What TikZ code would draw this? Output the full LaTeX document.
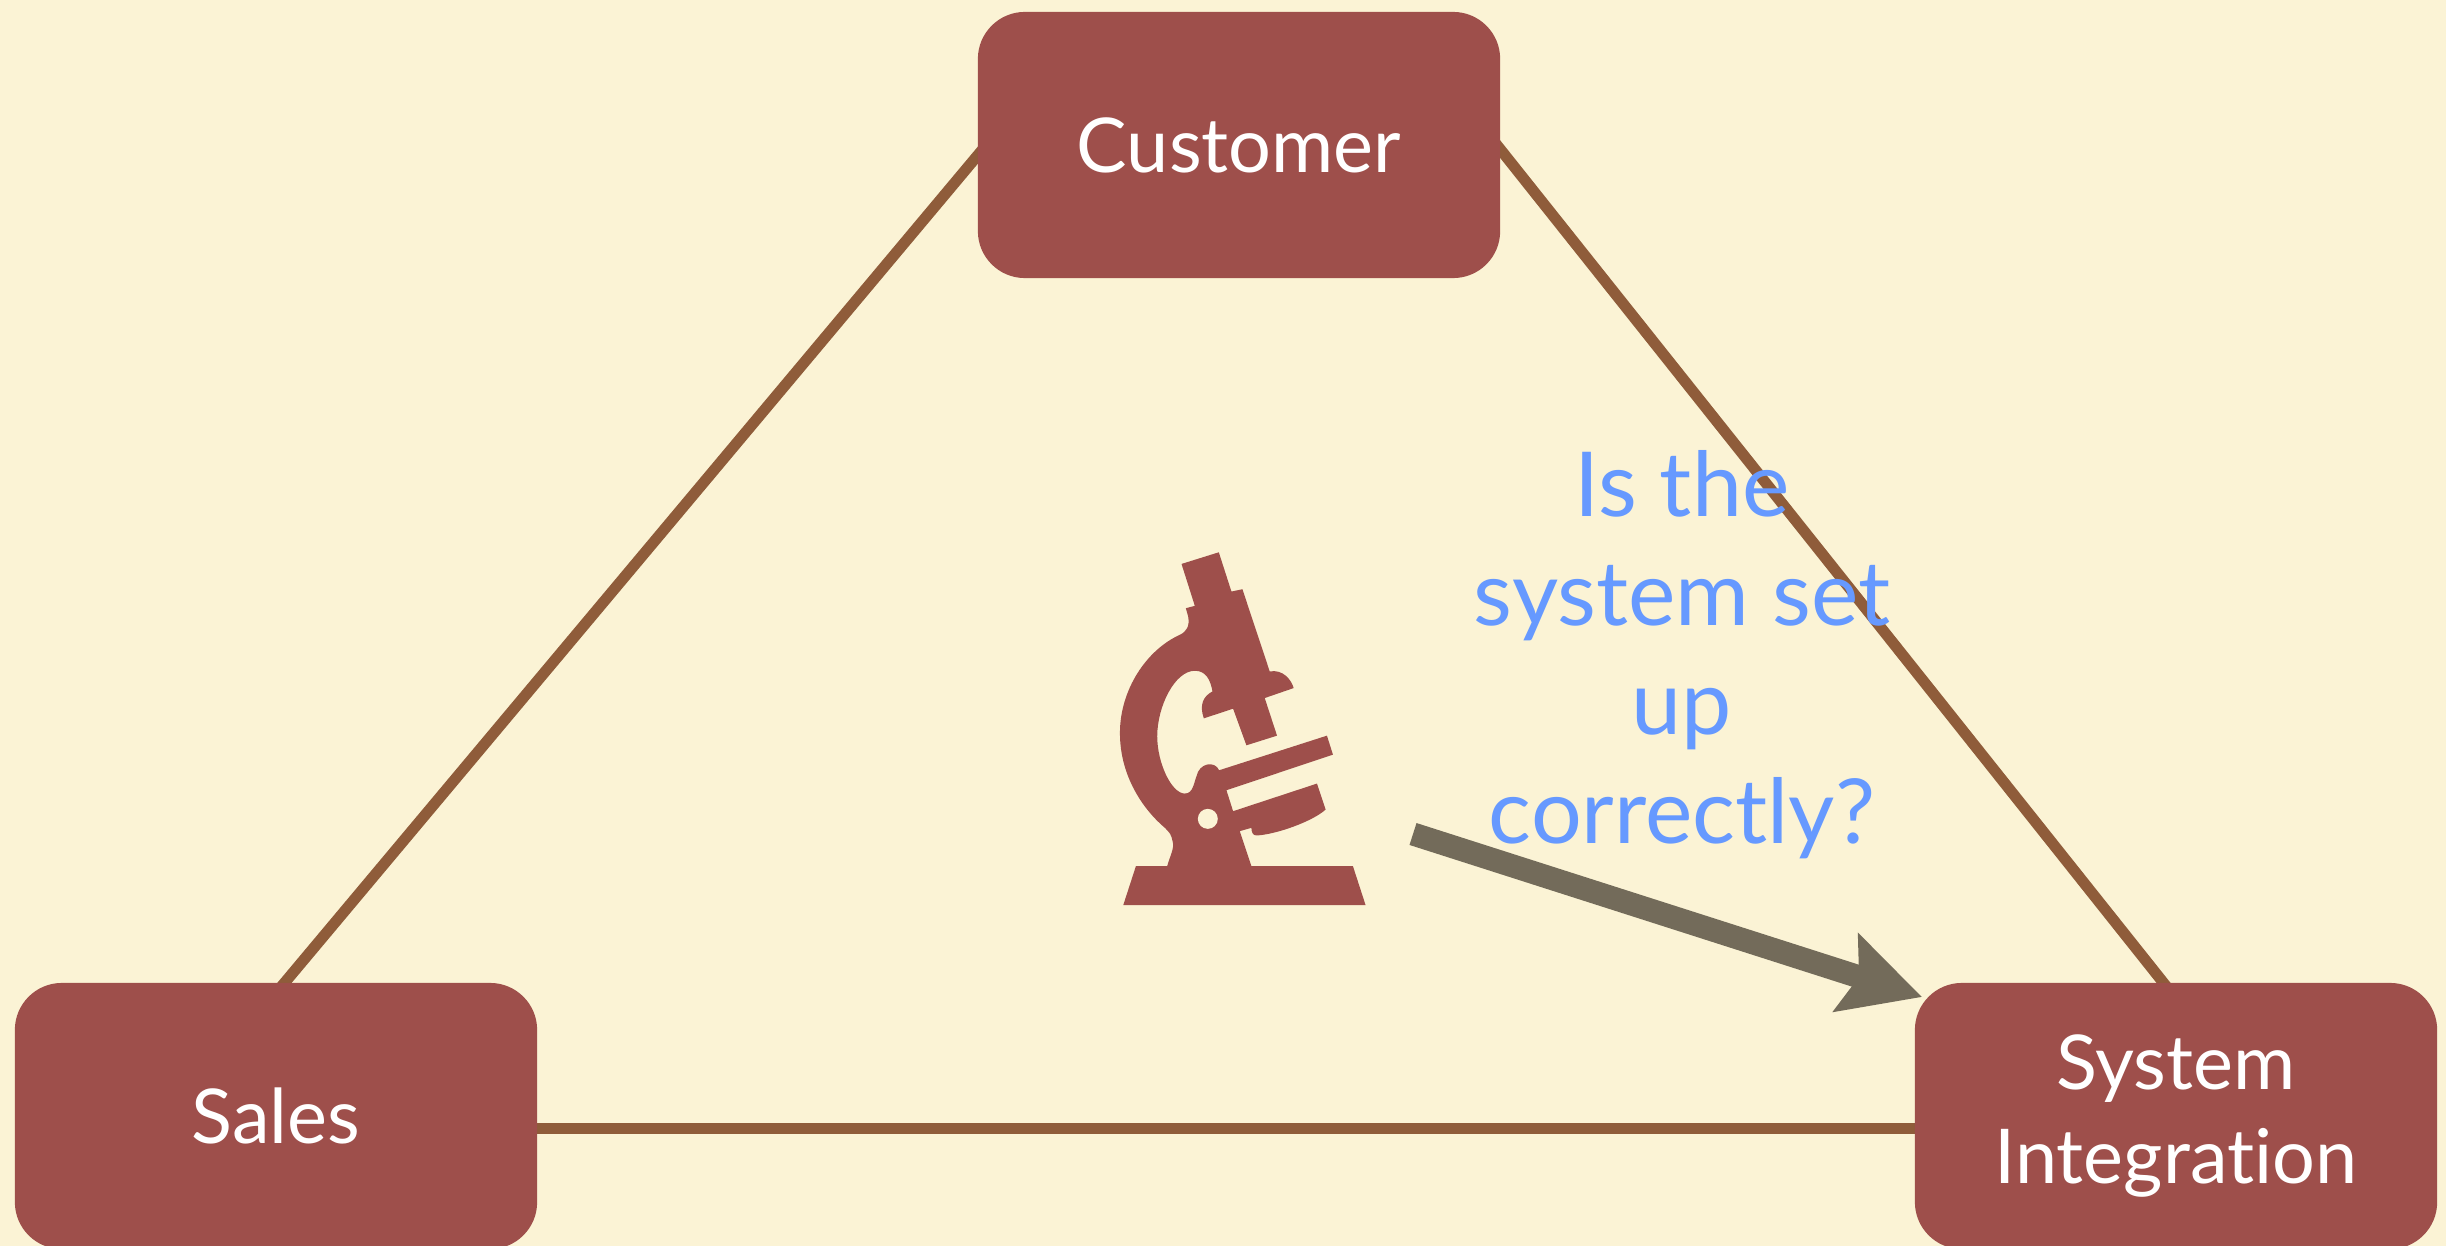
\documentclass[tikz,border=0pt]{standalone}
\usepackage{fontspec}
\setmainfont{Lato}[Ligatures={NoCommon,NoRare,NoDiscretionary}]
\usetikzlibrary{arrows.meta}
\pgfdeclarelayer{behind}
\pgfsetlayers{behind,main}
\definecolor{paper}{HTML}{FBF3D5}
\definecolor{brick}{HTML}{9E4F4B}
\definecolor{edgebrown}{HTML}{8F5C3A}
\definecolor{arrowgrey}{HTML}{736B5A}
\definecolor{askblue}{HTML}{6699FF}
\tikzset{
  x=0.01cm,y=-0.01cm,
  party/.style={fill=brick,rounded corners=0.47cm,minimum width=5.22cm,minimum height=2.66cm,inner sep=0pt,text=white,font=\fontsize{21.5}{27}\selectfont,align=center},
  tie/.style={draw=edgebrown,line width=0.11cm,line cap=butt,shorten <=-0.08cm,shorten >=-0.08cm},
  pointer/.style={draw=arrowgrey,line width=0.23cm,-{Stealth[length=0.79cm,width=0.80cm,inset=0.13cm,fill=arrowgrey]}},
  ask/.style={text=askblue,font=\fontsize{25.5}{31}\selectfont,align=center,inner sep=0pt}
}
\begin{document}
\begin{tikzpicture}
\useasboundingbox (0,0) rectangle (2446,1246);
\clip (0,0) rectangle (2446,1246);
\node[party] (cust) at (1239,145) {Customer};
\node[party] (sales) at (276,1116) {Sales};
\node[party] (si) at (2176,1116) {System\\Integration};
\coordinate (tail) at (1413,834);
\coordinate (tip) at (1922,997);
\begin{pgfonlayer}{behind}
\fill[paper] (0,0) rectangle (2446,1246);
\draw[tie] ([yshift=-0.11cm]cust.west) -- ([xshift=0.09cm]sales.north);
\draw[tie] ([yshift=-0.05cm]cust.east) -- ([xshift=-0.13cm]si.north);
\draw[tie] ([yshift=-0.12cm]sales.east) -- ([yshift=-0.12cm]si.west);
\end{pgfonlayer}
% microscope, coordinates from a 3x crop at (1080,520)
\begin{scope}[shift={(1080,520)},x=0.003333cm,y=-0.003333cm]
\fill[brick] (305,132) -- (417,97) -- (455,215) -- (488,208) -- (570,455)
  .. controls (610,448) and (635,480) .. (642,505) -- (555,535) -- (592,648) -- (500,677) -- (460,567) -- (372,596)
  .. controls (358,555) and (370,530) .. (398,515)
  .. controls (392,480) and (378,453) .. (345,453)
  .. controls (285,453) and (232,560) .. (232,650)
  .. controls (232,730) and (275,822) .. (315,822)
  .. controls (340,822) and (342,790) .. (350,770)
  .. controls (358,730) and (405,722) .. (418,752)
  -- (742,648) -- (760,705) -- (440,812) -- (460,875) -- (712,792) -- (738,870)
  .. controls (700,905) and (590,945) .. (530,948)
  .. controls (518,948) and (515,935) .. (515,925)
  -- (480,935) -- (515,1040) -- (820,1040) -- (858,1157) -- (130,1157) -- (168,1040) -- (262,1040)
  .. controls (270,1010) and (285,985) .. (278,965)
  .. controls (275,945) and (268,938) .. (255,925)
  .. controls (190,870) and (120,770) .. (120,640)
  .. controls (120,510) and (200,390) .. (300,345)
  .. controls (320,335) and (330,320) .. (325,290)
  -- (318,265) -- (345,258) -- cycle;
\fill[paper] (384,898) circle[radius=30];
\end{scope}
\draw[pointer] (tail) -- (tip);
\node[ask] (question) at (1682,655) {Is the\\system set\\up\\correctly?};
\end{tikzpicture}
\end{document}
